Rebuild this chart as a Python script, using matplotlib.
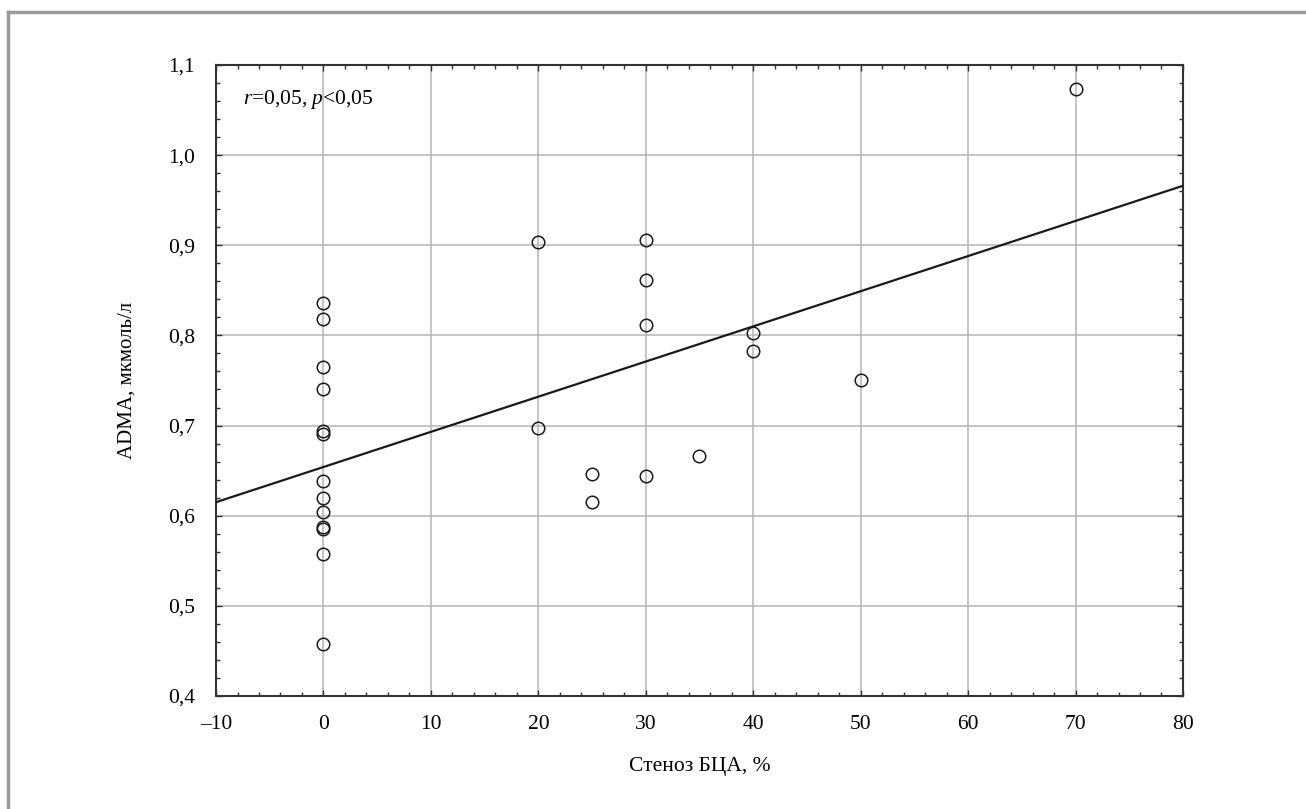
import matplotlib.pyplot as plt
import numpy as np
from matplotlib.ticker import MultipleLocator, FuncFormatter
from matplotlib.lines import Line2D

plt.rcParams['font.family'] = ['Liberation Serif', 'DejaVu Serif']
plt.rcParams['mathtext.fontset'] = 'custom'
plt.rcParams['mathtext.rm'] = 'Liberation Serif'
plt.rcParams['mathtext.it'] = 'Liberation Serif:italic'

# stenosis (%) and ADMA (mkmol/l)
stenosis = [0, 0, 0, 0, 0, 0, 0, 0, 0, 0, 0, 0, 0,
            20, 20, 25, 25, 30, 30, 30, 30, 35, 40, 40, 50, 70]
adma = [0.836, 0.818, 0.765, 0.741, 0.694, 0.691, 0.639, 0.620, 0.604,
        0.587, 0.585, 0.558, 0.458,
        0.904, 0.697, 0.646, 0.615, 0.906, 0.862, 0.811, 0.644, 0.666,
        0.803, 0.783, 0.750, 1.073]

# regression line as drawn in the picture
fit_intercept = 0.654
fit_slope = 0.0039
fit_x = [-10, 80]

def x_fmt(v, pos):
    return ('%d' % round(v)).replace('-', '\u2013')

def y_fmt(v, pos):
    return ('%.1f' % v).replace('.', ',')

fig = plt.figure(figsize=(13.06, 8.09), dpi=100)
ax = fig.add_axes([0.1654, 0.1397, 0.7404, 0.78])

ax.grid(True, color='#b4b4b4', lw=1.1, zorder=0)
line_y = [fit_intercept + fit_slope * x for x in fit_x]
ax.plot(fit_x, line_y, color='#1a1a1a', lw=1.6, zorder=3)
ax.plot(stenosis, adma, 'o', mfc='none', mec='#1a1a1a', ms=9, mew=1.1, zorder=4)

ax.set_xlim(-10, 80)
ax.set_ylim(0.4, 1.1)
ax.xaxis.set_major_locator(MultipleLocator(10))
ax.xaxis.set_minor_locator(MultipleLocator(2))
ax.yaxis.set_major_locator(MultipleLocator(0.1))
ax.yaxis.set_minor_locator(MultipleLocator(0.02))
ax.xaxis.set_major_formatter(FuncFormatter(x_fmt))
ax.yaxis.set_major_formatter(FuncFormatter(y_fmt))
ax.tick_params(which='both', direction='in', top=True, right=True,
               color='#333333', width=1.0, labelsize=15.5)
ax.tick_params(which='major', length=4)
ax.tick_params(which='minor', length=3)
ax.tick_params(axis='x', pad=14)
ax.tick_params(axis='y', pad=15)
for sp in ax.spines.values():
    sp.set_color('#333333')
    sp.set_linewidth(1.5)

ax.set_xlabel('Стеноз БЦА, %', fontsize=15.5, labelpad=16)
ax.set_ylabel('ADMA, мкмоль/л', fontsize=15, labelpad=23)
ax.text(0.028, 0.945, r'$\it{r}$=0,05, $\it{p}$<0,05', transform=ax.transAxes,
        fontsize=15.5, va='center', ha='left')

# grey frame around the figure (top and left edges)
fig.add_artist(Line2D([8 / 1306, 8 / 1306], [0, 1 - 12 / 809], transform=fig.transFigure,
                      color='#9a9a9a', lw=2.5))
fig.add_artist(Line2D([8 / 1306, 1], [1 - 12 / 809, 1 - 12 / 809], transform=fig.transFigure,
                      color='#9a9a9a', lw=2.5))

fig.savefig('out.png', dpi=100)
